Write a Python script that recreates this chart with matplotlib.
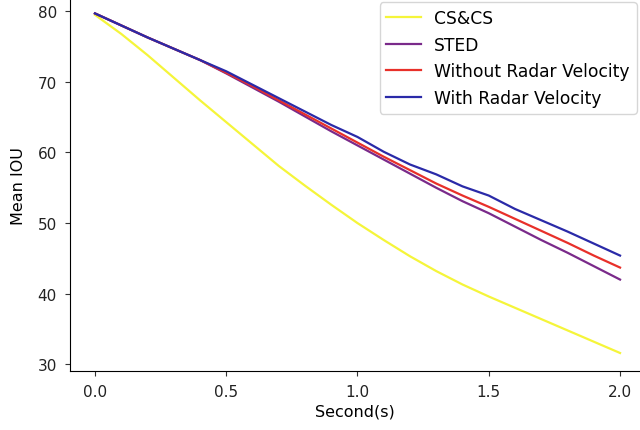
import matplotlib
matplotlib.use("Agg")
import matplotlib.pyplot as plt

# time axis (s)
seconds = [0.0, 0.1, 0.2, 0.3, 0.4, 0.5, 0.6, 0.7, 0.8, 0.9, 1.0,
           1.1, 1.2, 1.3, 1.4, 1.5, 1.6, 1.7, 1.8, 1.9, 2.0]

# Mean IOU per method
cs_cs = [79.5, 76.8, 73.8, 70.6, 67.4, 64.3, 61.2, 58.1, 55.3, 52.6, 50.0,
         47.6, 45.3, 43.2, 41.3, 39.6, 38.0, 36.4, 34.8, 33.2, 31.6]
sted = [79.7, 78.0, 76.3, 74.7, 73.1, 71.2, 69.2, 67.2, 65.1, 63.0, 61.0,
        59.0, 57.0, 55.0, 53.1, 51.4, 49.5, 47.6, 45.8, 43.9, 42.0]
without_rv = [79.7, 78.0, 76.3, 74.7, 73.1, 71.3, 69.4, 67.4, 65.4, 63.4, 61.4,
              59.4, 57.5, 55.6, 53.9, 52.3, 50.6, 48.9, 47.2, 45.4, 43.7]
with_rv = [79.7, 78.0, 76.3, 74.7, 73.1, 71.5, 69.6, 67.7, 65.8, 63.9, 62.2,
           60.1, 58.3, 56.9, 55.2, 53.9, 52.0, 50.4, 48.8, 47.1, 45.4]

fig = plt.figure(figsize=(6.4, 4.31), dpi=100)
ax = fig.add_axes([70 / 640, 59 / 431, 570 / 640, 372 / 431])

ax.plot(seconds, cs_cs, color='#f5f53a', lw=1.6, label='CS&CS')
ax.plot(seconds, sted, color='#7a2a8a', lw=1.6, label='STED')
ax.plot(seconds, without_rv, color='#e8302a', lw=1.6, label='Without Radar Velocity')
ax.plot(seconds, with_rv, color='#2a2aa8', lw=1.6, label='With Radar Velocity')

ax.set_xlim(-0.095, 2.076)
ax.set_ylim(29.05, 81.74)
ax.set_xticks([0.0, 0.5, 1.0, 1.5, 2.0])
ax.set_yticks([30, 40, 50, 60, 70, 80])
ax.tick_params(labelsize=11, pad=6, color='#333333', labelcolor='#222222')
ax.set_xlabel('Second(s)', fontsize=11.5, labelpad=3)
ax.set_ylabel('Mean IOU', fontsize=11.5, labelpad=8)

ax.spines['top'].set_visible(False)
ax.spines['right'].set_visible(False)

ax.legend(loc='upper right', bbox_to_anchor=(1.0, 1.0), borderaxespad=0.2,
          fontsize=12.3)

fig.savefig('out.png', dpi=100)
